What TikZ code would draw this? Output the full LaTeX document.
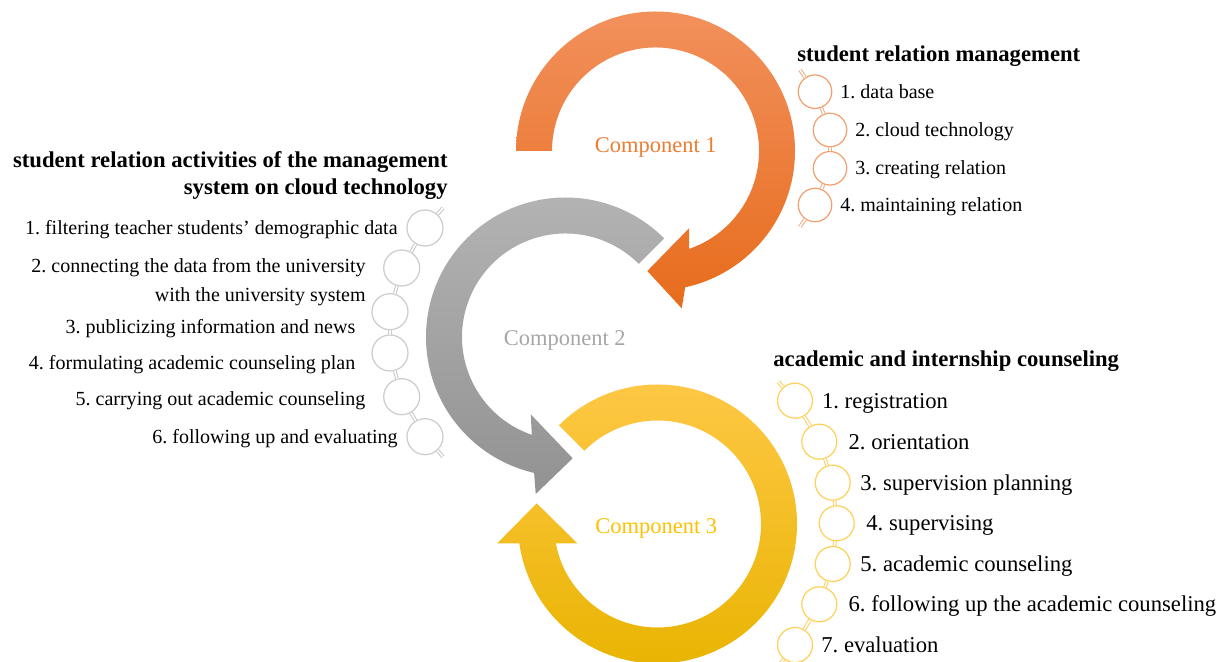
\documentclass[tikz,border=0pt]{standalone}
\usepackage{fontspec}
\setmainfont{Liberation Serif}
\frenchspacing

\definecolor{orangetop}{RGB}{242,144,92}
\definecolor{orangebot}{RGB}{231,108,28}
\definecolor{orangetext}{RGB}{237,125,49}
\definecolor{orangebead}{RGB}{242,160,112}
\definecolor{orangelink}{RGB}{238,175,135}
\definecolor{greytop}{RGB}{180,180,180}
\definecolor{greybot}{RGB}{146,146,146}
\definecolor{greytext}{RGB}{166,166,166}
\definecolor{greybead}{RGB}{205,205,205}
\definecolor{greylink}{RGB}{200,200,200}
\definecolor{yellowtop}{RGB}{255,200,72}
\definecolor{yellowbot}{RGB}{232,180,0}
\definecolor{yellowtext}{RGB}{255,192,0}
\definecolor{yellowbead}{RGB}{255,208,90}
\definecolor{yellowlink}{RGB}{250,210,105}

\tikzset{
  bead/.style 2 args={circle, draw=#1, line width=0.7pt, fill=white, inner sep=0pt, minimum size=#2},
  link/.style={draw=#1, line width=0.6pt, double=white, double distance=0.9pt},
  title/.style={inner sep=0pt, text height=8.5pt, text depth=0pt, font=\bfseries\fontsize{12.9}{15.5}\selectfont},
  item/.style={inner sep=0pt, text height=7.5pt, text depth=0pt, font=\fontsize{11.4}{13.7}\selectfont},
  bigitem/.style={inner sep=0pt, text height=8.5pt, text depth=0pt, font=\fontsize{12.9}{15.5}\selectfont},
  comp/.style={inner sep=0pt, text height=8.5pt, text depth=0pt, font=\fontsize{12.8}{15}\selectfont, text=#1},
}

\begin{document}
\begin{tikzpicture}[x=0.02cm,y=0.02cm]
\useasboundingbox (0,0) rectangle (1223,662);

% component 1: clockwise ring, head pointing left
\begin{scope}[shift={(655.5,511)}]
  \shade[top color=orangetop, bottom color=orangebot]
    (180:139.5) arc[start angle=180, end angle=-77.7, radius=139.5]
    -- (26.2,-157.3) -- (-8.2,-120) -- (33.5,-77.3)
    -- (-71:103.5) arc[start angle=-71, end angle=180, radius=103.5] -- cycle;
  \node[comp=orangetext] (c1) at (0.3,5.5) {Component 1};
\end{scope}

% component 2: counter-clockwise ring
\begin{scope}[shift={(565.5,325)}]
  \shade[top color=greytop, bottom color=greybot]
    (45:139.5) arc[start angle=45, end angle=257, radius=139.5]
    -- (-29.8,-157) -- (7.2,-121.3) -- (-34.8,-77.3)
    -- (251:103.5) arc[start angle=251, end angle=45, radius=103.5] -- cycle;
  \node[comp=greytext] (c2) at (-0.8,-1) {Component 2};
\end{scope}

% component 3: clockwise ring, head pointing up
\begin{scope}[shift={(657.5,138)}]
  \shade[top color=yellowtop, bottom color=yellowbot]
    (135:139.5) arc[start angle=135, end angle=-172, radius=139.5]
    -- (-160.2,-19.3) -- (-120.8,20.7) -- (-80.2,-19.3)
    -- (-169.2:103.5) arc[start angle=-169.2, end angle=135, radius=103.5] -- cycle;
  \node[comp=yellowtext] (c3) at (-1.3,-2.2) {Component 3};
\end{scope}

% student relation management
\node[title, anchor=west] (otitle) at (797,608) {student relation management};
\coordinate (o0) at (800,592);
\foreach \i/\x/\y/\tx/\txt in {1/815/570.3/840/{1. data base},
    2/830/532/855/{2. cloud technology},
    3/830/493.7/855/{3. creating relation},
    4/815/457/840/{4. maintaining relation}}
{
  \node[bead={orangebead}{0.67cm}] (o\i) at (\x,\y) {};
  \node[item, anchor=west] (ot\i) at (\tx,\y) {\txt};
}
\coordinate (o5) at (800,435.3);
\draw[link=orangelink] (o0) -- (o1) -- (o2) -- (o3) -- (o4) -- (o5);

% activities on cloud technology
\node[anchor=east, inner sep=0pt, align=right, font=\bfseries\fontsize{12.9}{15.5}\selectfont]
  (gtitle) at (448,486.4) {student relation activities of the management\\system on cloud technology};
\coordinate (g0) at (443,454);
\foreach \i/\x/\y in {1/425/434, 2/401.7/394, 3/390/350.3, 4/390/309, 5/401.7/265.3, 6/425/225.3}
  \node[bead={greybead}{0.72cm}] (g\i) at (\x,\y) {};
\coordinate (g7) at (443,205.3);
\draw[link=greylink] (g0) -- (g1) -- (g2) -- (g3) -- (g4) -- (g5) -- (g6) -- (g7);

\node[item, anchor=east] (gt1) at (398,434) {1. filtering teacher students’ demographic data};
\node[anchor=east, inner sep=0pt, align=right, font=\fontsize{11.4}{13.7}\selectfont]
  (gt2) at (366,379.5) {2. connecting the data from the university\\[2.8pt]with the university system};
\node[item, anchor=east] (gt3) at (355.7,335.3) {3. publicizing information and news};
\node[item, anchor=east] (gt4) at (355.7,299) {4. formulating academic counseling plan};
\node[item, anchor=east] (gt5) at (365.7,263) {5. carrying out academic counseling};
\node[item, anchor=east] (gt6) at (398,225.3) {6. following up and evaluating};

% academic and internship counseling
\node[title, anchor=west] (ytitle) at (773,303.2) {academic and internship counseling};
\coordinate (y0) at (778.3,280.3);
\foreach \i/\x/\y/\tx/\txt in {1/795/261.3/821.7/{1. registration},
    2/819.3/220.3/848.3/{2. orientation},
    3/832.7/179.3/860/{3. supervision planning},
    4/836.7/138.7/866/{4. supervising},
    5/832.7/98/860/{5. academic counseling},
    6/819.3/57.7/848.3/{6. following up the academic counseling},
    7/795/17/821/{7. evaluation}}
{
  \node[bead={yellowbead}{0.7cm}] (y\i) at (\x,\y) {};
  \node[bigitem, anchor=west] (yt\i) at (\tx,\y) {\txt};
}
\coordinate (y8) at (778.3,-4);
\draw[link=yellowlink] (y0) -- (y1) -- (y2) -- (y3) -- (y4) -- (y5) -- (y6) -- (y7) -- (y8);

\end{tikzpicture}
\end{document}
